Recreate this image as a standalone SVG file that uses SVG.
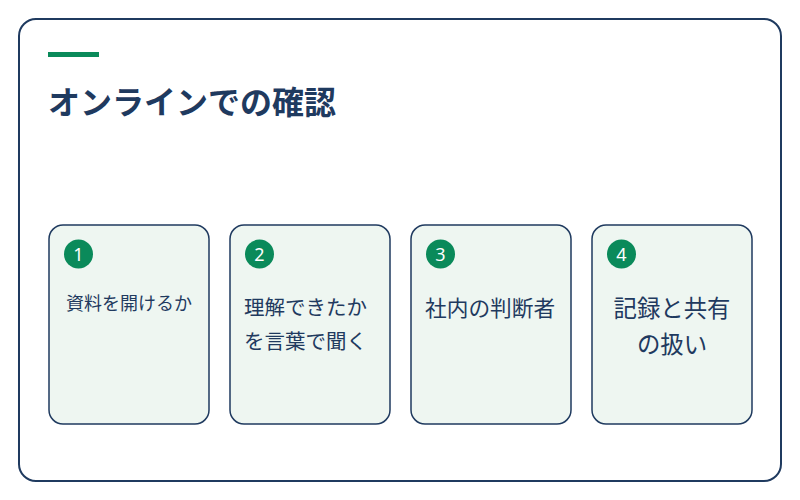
<svg xmlns="http://www.w3.org/2000/svg" width="800" height="500" viewBox="0 0 800 500">
<style>
.card{fill:#eef6f1;stroke:#1f3a5f;stroke-width:1.5}
.badge{fill:#0a8a5a}
.num{fill:#ffffff;font-family:"Noto Sans","Noto Sans CJK JP",sans-serif;font-size:18px;text-anchor:middle}
.lbl{fill:#1f3a5f;font-family:"Noto Sans CJK JP",sans-serif}
</style>
<rect x="0" y="0" width="800" height="500" fill="#ffffff"/>
<rect x="19" y="19" width="762" height="462" rx="17" fill="#ffffff" stroke="#1f3a5f" stroke-width="2"/>
<rect x="48" y="52" width="51" height="5" fill="#0a8a5a"/>
<text x="48" y="114" font-family="Noto Sans CJK JP, sans-serif" font-size="32" font-weight="bold" fill="#1f3a5f">オンラインでの確認</text>
<g id="connectors"></g>
<g id="node1">
<rect class="card" x="49" y="225" width="160" height="199" rx="14"/>
<circle class="badge" cx="78.5" cy="254" r="14.5"/>
<text class="num" x="78.5" y="260.5">1</text>
<text class="lbl" x="66" y="310" font-size="18">資料を開けるか</text>
</g>
<g id="node2">
<rect class="card" x="230" y="225" width="160" height="199" rx="14"/>
<circle class="badge" cx="259.5" cy="254" r="14.5"/>
<text class="num" x="259.5" y="260.5">2</text>
<text class="lbl" x="244" y="315" font-size="20.5">理解できたか</text>
<text class="lbl" x="244" y="349" font-size="20.5">を言葉で聞く</text>
</g>
<g id="node3">
<rect class="card" x="411" y="225" width="160" height="199" rx="14"/>
<circle class="badge" cx="440.5" cy="254" r="14.5"/>
<text class="num" x="440.5" y="260.5">3</text>
<text class="lbl" x="425" y="316" font-size="21.7">社内の判断者</text>
</g>
<g id="node4">
<rect class="card" x="592" y="225" width="160" height="199" rx="14"/>
<circle class="badge" cx="621.5" cy="254" r="14.5"/>
<text class="num" x="621.5" y="260.5">4</text>
<text class="lbl" x="672" y="317" font-size="23.4" text-anchor="middle">記録と共有</text>
<text class="lbl" x="672" y="353" font-size="23.4" text-anchor="middle">の扱い</text>
</g>
</svg>
